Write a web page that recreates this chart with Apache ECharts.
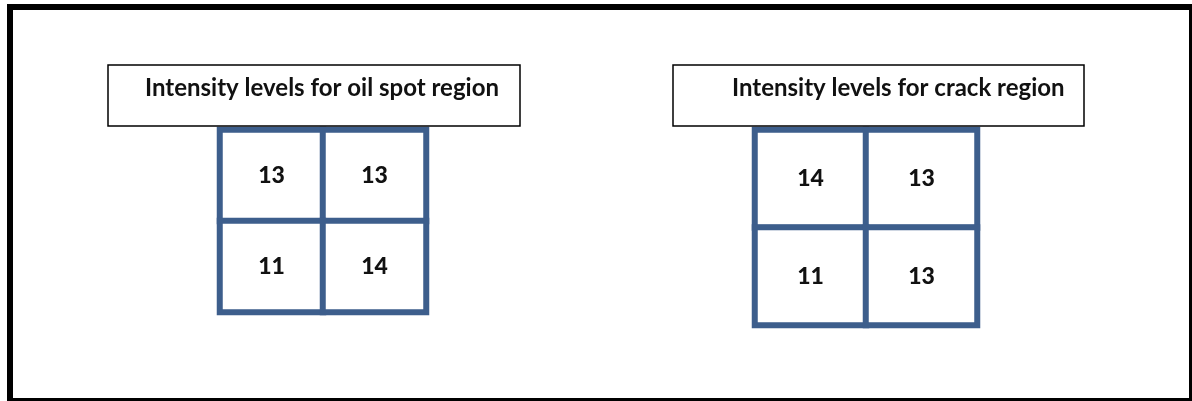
<!DOCTYPE html>
<html><head><meta charset="utf-8">
<script src="https://cdn.jsdelivr.net/npm/echarts@6/dist/echarts.min.js"></script>
<style>html,body{margin:0;padding:0;background:#fff}#c{width:1192px;height:401px}</style>
</head><body><div id="c"></div>
<script>
const colLabels = ['left', 'right'];
const rowLabels = ['top', 'bottom'];
const oilSpotValues = [[13, 13], [11, 14]];
const crackValues = [[14, 13], [11, 13]];
const panelTitles = ['Intensity levels for oil spot region', 'Intensity levels for crack region'];

const BLUE = '#3d5e8c';
const FONT = 'Lato';

function toCells(values) {
  const out = [];
  values.forEach((row, r) => row.forEach((v, c) => out.push([c, r, v])));
  return out;
}

const grids = [
  { left: 220, top: 130, width: 206, height: 182 },
  { left: 755, top: 130, width: 222, height: 195 }
];

const chart = echarts.init(document.getElementById('c'), null, { renderer: 'canvas' });
chart.setOption({
  animation: false,
  backgroundColor: '#fff',
  grid: grids,
  xAxis: grids.map((g, i) => ({ type: 'category', data: colLabels, gridIndex: i, show: false })),
  yAxis: grids.map((g, i) => ({ type: 'category', data: rowLabels, gridIndex: i, inverse: true, show: false })),
  series: [oilSpotValues, crackValues].map((vals, i) => ({
    type: 'heatmap',
    xAxisIndex: i,
    yAxisIndex: i,
    data: toCells(vals),
    itemStyle: { color: '#fff', borderColor: BLUE, borderWidth: 6 },
    label: { show: true, color: '#111', fontFamily: FONT, fontWeight: 900, fontSize: 23 },
    emphasis: { disabled: true }
  })),
  graphic: [
    { type: 'rect', shape: { x: 10, y: 7, width: 1182, height: 394 }, style: { fill: 'none', stroke: '#000', lineWidth: 6 }, z: 10 },
    { type: 'rect', shape: { x: 108, y: 65, width: 412, height: 61 }, style: { fill: '#fff', stroke: '#000', lineWidth: 1.5 }, z: 5 },
    { type: 'text', x: 145, y: 88, style: { text: panelTitles[0], fill: '#111', font: 'bold 24px ' + FONT, textVerticalAlign: 'middle' }, z: 6 },
    { type: 'rect', shape: { x: 673, y: 65, width: 411, height: 61 }, style: { fill: '#fff', stroke: '#000', lineWidth: 1.5 }, z: 5 },
    { type: 'text', x: 732, y: 88, style: { text: panelTitles[1], fill: '#111', font: 'bold 24px ' + FONT, textVerticalAlign: 'middle' }, z: 6 }
  ]
});
</script></body></html>
